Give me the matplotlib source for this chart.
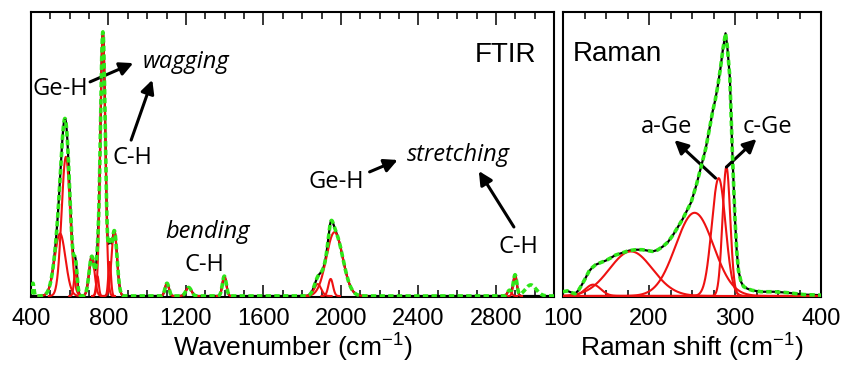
import numpy as np
import matplotlib
matplotlib.use('Agg')
import matplotlib.pyplot as plt

plt.rcParams['font.family'] = ['Liberation Sans', 'DejaVu Sans']

## DATA
# FTIR fitted peaks: centre (cm-1), height (norm.), sigma (cm-1)
ftir_centre = [550, 580, 630, 714, 743, 771, 806, 830, 1102, 1214, 1398, 1880, 1947, 1967, 2870, 2899]
ftir_height = [0.22, 0.49, 0.09, 0.14, 0.07, 0.93, 0.12, 0.23, 0.045, 0.03, 0.07, 0.042, 0.06, 0.225, 0.02, 0.074]
ftir_sigma = [28, 22, 8, 14, 7, 13, 7, 14, 10, 14, 10, 18, 12, 42, 10, 9]
# features of the measured FTIR trace that the fit leaves out
ftir_extra_centre = [410, 2980]
ftir_extra_height = [0.045, 0.039]
ftir_extra_sigma = [5, 28]

# Raman fitted peaks
raman_centre = [135, 179, 253, 281, 290]
raman_height = [0.04, 0.157, 0.293, 0.415, 0.455]
raman_sigma = [9, 25, 22, 8, 4.5]
# measured Raman trace
raman_shift = [100, 105, 110, 114, 118, 122, 126, 130, 134, 138, 144, 150, 156, 161, 170, 177,
               185, 192, 198, 204, 210, 216, 222, 228, 234, 239, 244, 249, 255, 261, 266, 271,
               274, 277, 280, 283, 286, 289, 291, 294, 297, 300, 302, 304, 307, 310, 315, 320,
               330, 345, 360, 380, 400]
raman_int = [0.015, 0.018, 0.012, 0.008, 0.02, 0.04, 0.062, 0.086, 0.1, 0.11, 0.118, 0.125, 0.135, 0.144,
             0.153, 0.16, 0.163, 0.163, 0.16, 0.157, 0.162, 0.174, 0.19, 0.215, 0.245, 0.27, 0.3, 0.33,
             0.39, 0.46, 0.52, 0.6, 0.65, 0.69, 0.74, 0.8, 0.87, 0.925, 0.88, 0.77, 0.5, 0.27, 0.16,
             0.09, 0.05, 0.033, 0.025, 0.02, 0.015, 0.015, 0.012, 0.005, 0.003]

RED = '#ee1111'
GREEN = '#2ee619'

def gauss(x, c, h, s):
    return h * np.exp(-(x - c) ** 2 / (2 * s ** 2))

#%% figure
fig = plt.figure(figsize=(8.43, 3.65), dpi=100)
ax1 = fig.add_axes([31 / 843, 1 - 297 / 365, 523 / 843, 285 / 365])
ax2 = fig.add_axes([563 / 843, 1 - 297 / 365, 258 / 843, 285 / 365])

#%% FTIR
wn = np.linspace(400, 3100, 2700)
fit = np.zeros_like(wn)
for c, h, s in zip(ftir_centre, ftir_height, ftir_sigma):
    fit += gauss(wn, c, h, s)
meas = fit.copy()
for c, h, s in zip(ftir_extra_centre, ftir_extra_height, ftir_extra_sigma):
    meas += gauss(wn, c, h, s)

ax1.plot(wn, fit, color='k', lw=1.6, zorder=2)
for c, h, s in zip(ftir_centre, ftir_height, ftir_sigma):
    m = np.abs(wn - c) < 4 * s
    ax1.plot(wn[m], gauss(wn[m], c, h, s), color=RED, lw=1.5, zorder=3)
ax1.plot(wn, meas, color=GREEN, lw=2.6, dashes=(1.5, 0.9), zorder=4)

ax1.set_xlim(400, 3100)
ax1.set_xticks(np.arange(400, 3100, 400))
ax1.set_xticks(np.arange(400, 3101, 100), minor=True)
ax1.set_xlabel('Wavenumber (cm$^{\\mathregular{-1}}$)', fontsize=19, labelpad=0)

#%% Raman
sh = np.linspace(100, 400, 1200)
ax2.plot(raman_shift, raman_int, color='k', lw=1.6, zorder=2)
for c, h, s in zip(raman_centre, raman_height, raman_sigma):
    ax2.plot(sh, gauss(sh, c, h, s), color=RED, lw=1.5, zorder=3)
ax2.plot(raman_shift, raman_int, color=GREEN, lw=2.6, dashes=(1.5, 0.9), zorder=4)

ax2.set_xlim(100, 400)
ax2.set_xticks([100, 200, 300, 400])
ax2.set_xticks(np.arange(100, 401, 25), minor=True)
ax2.set_xlabel('Raman shift (cm$^{\\mathregular{-1}}$)', fontsize=19, labelpad=0)

for ax in (ax1, ax2):
    ax.set_ylim(-0.0035, 1.0)
    ax.set_yticks([])
    ax.tick_params(axis='x', which='both', direction='in', top=True, bottom=True,
                   labelsize=17, width=1.1, pad=8)
    ax.tick_params(axis='x', which='major', length=9)
    ax.tick_params(axis='x', which='minor', length=5)
    for sp in ax.spines.values():
        sp.set_linewidth(1.5)

#%% annotations
ann = dict(fontsize=17, family=['Open Sans', 'DejaVu Sans'], ha='center', va='center')
arr = dict(arrowstyle='-|>', color='k', lw=2.2, mutation_scale=20, shrinkA=0, shrinkB=0)

ax1.text(550, 0.729, 'Ge-H', **ann)
ax1.annotate('', xy=(928, 0.820), xytext=(705, 0.754), arrowprops=arr)
ax1.text(1202, 0.824, 'wagging', style='italic', **ann)
ax1.text(922, 0.486, 'C-H', **ann)
ax1.annotate('', xy=(1026, 0.761), xytext=(917, 0.549), arrowprops=arr)
ax1.text(1310, 0.225, 'bending', style='italic', **ann)
ax1.text(1295, 0.109, 'C-H', **ann)
ax1.text(1978, 0.401, 'Ge-H', **ann)
ax1.annotate('', xy=(2293, 0.479), xytext=(2148, 0.437), arrowprops=arr)
ax1.text(2604, 0.496, 'stretching', style='italic', **ann)
ax1.annotate('', xy=(2712, 0.440), xytext=(2893, 0.243), arrowprops=arr)
ax1.text(2914, 0.173, 'C-H', **ann)
ax1.text(2852, 0.849, 'FTIR', fontsize=20, ha='center', va='center')

ax2.text(163, 0.852, 'Raman', fontsize=20, ha='center', va='center')
ax2.text(220, 0.595, 'a-Ge', **ann)
ax2.annotate('', xy=(229.6, 0.549), xytext=(277.4, 0.415), arrowprops=arr)
ax2.text(338, 0.595, 'c-Ge', **ann)
ax2.annotate('', xy=(325, 0.553), xytext=(290, 0.454), arrowprops=arr)

plt.savefig('out.png', dpi=100)
